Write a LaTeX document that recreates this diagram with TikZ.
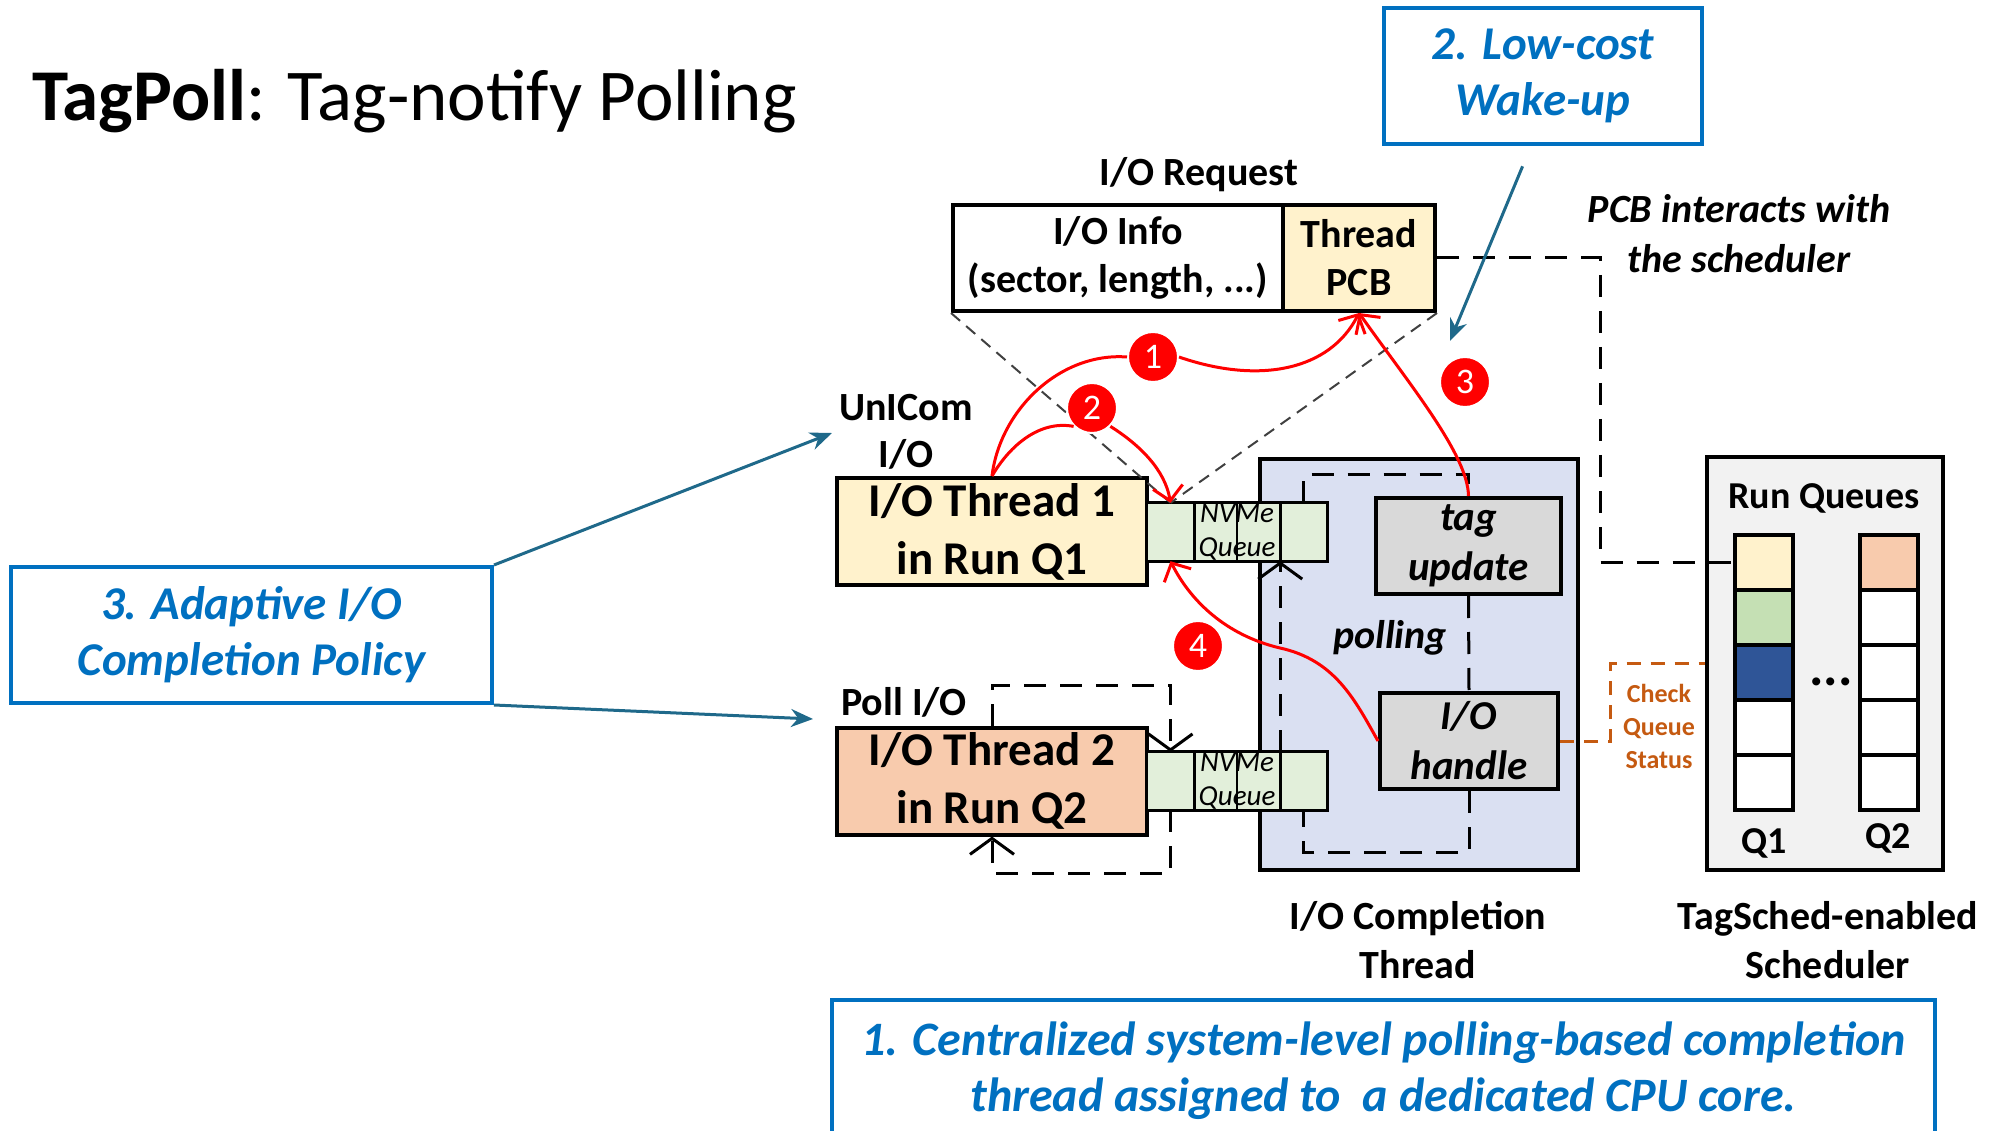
\documentclass[tikz,border=0pt]{standalone}
\usepackage{fontspec}
\setmainfont{Carlito}
\usetikzlibrary{arrows.meta}

\definecolor{accent}{RGB}{0,112,192}
\definecolor{pointer}{RGB}{31,105,138}
\definecolor{reqfill}{RGB}{255,242,204}
\definecolor{hotfill}{RGB}{248,203,173}
\definecolor{nvmefill}{RGB}{226,239,218}
\definecolor{corefill}{RGB}{218,224,242}
\definecolor{stagefill}{RGB}{217,217,217}
\definecolor{schedfill}{RGB}{242,242,242}
\definecolor{qgreen}{RGB}{197,224,180}
\definecolor{qblue}{RGB}{47,85,151}
\definecolor{status}{RGB}{197,90,17}
\definecolor{guide}{RGB}{64,64,64}

\newcommand{\fsz}[2]{\fontsize{#1}{#2}\selectfont}

\tikzset{
  note/.style={draw=accent, line width=4pt, text=accent, inner sep=0pt,
    align=center, font=\fsz{47}{56}\bfseries\itshape},
  cell/.style={draw, line width=4pt, inner sep=0pt, align=center},
  qcell/.style={fill=nvmefill, inner sep=0pt, minimum height=58pt},
  rqcell/.style={draw, line width=4pt, inner sep=0pt, minimum width=58pt, minimum height=55pt},
  lbl/.style={inner sep=0pt, align=center, font=\fsz{40}{47}\bfseries},
  badge/.style={circle, fill=red, draw=white, line width=2pt, text=white,
    inner sep=0pt, minimum size=50pt, font=\fsz{36}{40}},
  redline/.style={draw=red, line width=3pt},
  redarr/.style={redline, -{Straight Barb[length=14pt,width=30pt]}},
  loopline/.style={draw=black, line width=3pt, dash pattern=on 22pt off 14pt},
  looparr/.style={loopline, -{Straight Barb[length=16pt,width=44pt]}},
  guideline/.style={draw=guide, line width=2pt, dash pattern=on 12pt off 8pt},
  chkline/.style={draw=status, line width=3pt, dash pattern=on 14pt off 10pt},
  pointerarr/.style={draw=pointer, line width=3pt, -{Stealth[length=22pt,width=18pt]}}
}

\begin{document}
\begin{tikzpicture}[x=1pt,y=-1pt]
\useasboundingbox (0,0) rectangle (1998,1131);

% heading
\node[anchor=base west, inner sep=0pt, font=\fsz{73}{88}] (title) at (32,121)
  {\textbf{TagPoll}: Tag-notify Polling};

% callout boxes
\node[note, minimum width=318pt, minimum height=136pt] (wake) at (1543,76) {2. Low-cost\\Wake-up};
\node[note, minimum width=481pt, minimum height=136pt] (adapt) at (251.5,635) {3. Adaptive I/O\\Completion Policy};
\node[note, minimum width=1103pt, minimum height=142pt, anchor=north, font=\fsz{48}{56}\bfseries\itshape]
  (central) at (1383.5,998) {1. Centralized system-level polling-based completion\\thread assigned to\ \ a dedicated CPU core.};

% I/O request
\node[lbl] (reqlbl) at (1199,175) {I/O Request};
\node[cell, fill=white, minimum width=330pt, minimum height=106pt, font=\fsz{40}{48}\bfseries] (info) at (1118,258)
  {I/O Info\\(sector, length, ...)};
\node[cell, fill=reqfill, minimum width=152pt, minimum height=106pt, font=\fsz{40}{48}\bfseries] (pcb) at (1359,258)
  {Thread\\PCB};
\node[lbl, font=\fsz{40}{50}\bfseries\itshape] (pcbnote) at (1739,234) {PCB interacts with\\the scheduler};

% completion thread container
\node[cell, fill=corefill, minimum width=318pt, minimum height=411pt] (ct) at (1419,664.5) {};

% I/O threads
\node[lbl] (uni) at (906,432) {UnICom\\I/O};
\node[lbl, anchor=west] (polllbl) at (841,702) {Poll I/O};
\node[cell, fill=reqfill, minimum width=310pt, minimum height=107pt, font=\fsz{47}{58}\bfseries] (t1) at (992,531.5)
  {I/O Thread 1\\in Run Q1};
\node[cell, fill=hotfill, minimum width=310pt, minimum height=107pt, font=\fsz{47}{58}\bfseries] (t2) at (992,781)
  {I/O Thread 2\\in Run Q2};

% NVMe queues
\foreach \row/\yy in {1/532, 2/781} {
  \node[qcell, minimum width=47pt] (q\row a) at (1170.5,\yy) {};
  \node[qcell, minimum width=43pt] (q\row b) at (1215.5,\yy) {};
  \node[qcell, minimum width=43pt] (q\row c) at (1258.5,\yy) {};
  \node[qcell, minimum width=47pt] (q\row d) at (1303.5,\yy) {};
  \draw[line width=3pt] (q\row a.north west) rectangle (q\row d.south east);
  \draw[line width=3pt] (q\row a.north east) -- (q\row a.south east);
  \draw[line width=2pt] (q\row b.north east) -- (q\row b.south east);
  \draw[line width=3pt] (q\row c.north east) -- (q\row c.south east);
  \node[inner sep=0pt, align=center, font=\fsz{29}{34}\itshape] (q\row txt) at (1237,\yy) {NVMe\\Queue};
}

% stages inside the completion thread
\node[cell, fill=stagefill, minimum width=185pt, minimum height=96pt, font=\fsz{41}{50}\bfseries\itshape] (tag) at (1468.5,546)
  {tag\\update};
\node[cell, fill=stagefill, minimum width=178pt, minimum height=96pt, font=\fsz{41}{50}\bfseries\itshape] (handle) at (1469,741)
  {I/O\\handle};
\node[lbl, font=\fsz{40}{48}\bfseries\itshape] (pollword) at (1390,638) {polling};

% polling loop of the completion thread
\draw[loopline] (q1d.north) -- ++(0,-28) -| (tag.north);
\draw[loopline] (tag.south) -- (handle.north);
\draw[loopline] (handle.south) -- ++(0,61) -| (q2d.south);
\draw[looparr] (q2c.north east) -- (q1c.south east);

% self-polling loop of thread 2
\draw[looparr] (t2.north) -- ++(0,-40) -| (q2a.north);
\draw[looparr] (q2a.south) -- ++(0,63) -| (t2.south);

% scheduler
\node[cell, fill=schedfill, minimum width=236pt, minimum height=413pt] (sch) at (1825,663.5) {};
\node[lbl, font=\fsz{38}{46}\bfseries] (rq) at (1824,498) {Run Queues};
\foreach \i/\yy/\ca/\cb in {1/562.5/reqfill/hotfill, 2/617.5/qgreen/white, 3/672.5/qblue/white,
                            4/727.5/white/white, 5/782.5/white/white} {
  \node[rqcell, fill=\ca] (ra\i) at (1764,\yy) {};
  \node[rqcell, fill=\cb] (rb\i) at (1888.5,\yy) {};
}
\node[lbl, font=\fsz{38}{46}\bfseries] (qa) at (1764,843) {Q1};
\node[lbl, font=\fsz{38}{46}\bfseries] (qb) at (1888,838) {Q2};
\node[inner sep=0pt, font=\fsz{54}{60}\bfseries] (dots) at (1831,682) {...};

% PCB link to the run queue
\draw[loopline] (pcb.east) -- ([xshift=163pt]pcb.east) |- (ra1.west);

% queue status check
\draw[chkline] (handle.east) -- ++(50,0) |- (sch.west);
\node[lbl, text=status, font=\fsz{26}{33}\bfseries] (chk) at (1659,726) {Check\\Queue\\Status};

% captions
\node[lbl, font=\fsz{40}{49}\bfseries] (ctcap) at (1418,940) {I/O Completion\\Thread};
\node[lbl, font=\fsz{40}{49}\bfseries] (schcap) at (1828,940) {TagSched-enabled\\Scheduler};

% request fan-out to the queue
\draw[guideline] (info.south west) -- (q1a.north);
\draw[guideline] (pcb.south east) -- (q1a.north);

% pointers from the callouts
\coordinate (wakeTip) at (1450,341);
\coordinate (uniTip) at (832,433);
\coordinate (pollTip) at (813,719);
\draw[pointerarr, shorten <=22pt] ([xshift=-12pt]wake.south) -- (wakeTip);
\draw[pointerarr] (adapt.north east) -- (uniTip);
\draw[pointerarr] (adapt.south east) -- (pollTip);

% numbered steps
\node[badge] (b1) at (1153,357) {1};
\node[badge] (b2) at (1092,408) {2};
\node[badge] (b3) at (1465,382) {3};
\node[badge] (b4) at (1198,646) {4};

\draw[redline] (t1.north) .. controls (1000,410) and (1060,352) .. (b1.west);
\draw[redarr] (b1.east) .. controls (1260,385) and (1330,370) .. (pcb.south);
\draw[redline] (t1.north) .. controls (1010,445) and (1040,420) .. (b2.south west);
\draw[redarr] (b2.south east) .. controls (1140,445) and (1165,470) .. (q1a.north);
\draw[redarr] (tag.north) .. controls (1468,455) and (1410,385) .. (pcb.south);
\draw[redarr] (handle.west) .. controls (1355,700) and (1335,660) .. (1280,648)
  .. controls (1225,635) and (1190,600) .. (q1a.south);

\end{tikzpicture}
\end{document}
